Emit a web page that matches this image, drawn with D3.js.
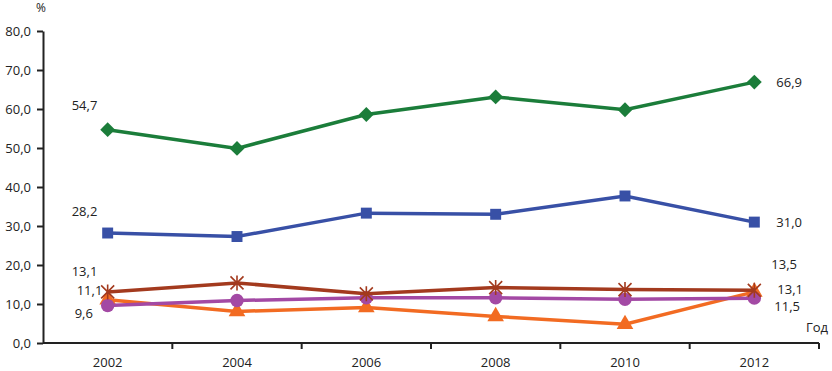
<!DOCTYPE html>
<html>
<head>
<meta charset="utf-8">
<script src="https://cdn.jsdelivr.net/npm/d3@7"></script>
<style>
  body { margin: 0; background: #fff; }
  text { font-family: "Open Sans", "DejaVu Sans", sans-serif; fill: #222; }
</style>
</head>
<body>
<div id="chart"></div>
<script>
// data
const years = ['2002', '2004', '2006', '2008', '2010', '2012'];
const greenVals = [54.7, 49.9, 58.6, 63.1, 59.8, 66.9];
const blueVals = [28.2, 27.3, 33.3, 33.0, 37.7, 31.0];
const brownVals = [13.1, 15.4, 12.6, 14.2, 13.7, 13.5];
const purpleVals = [9.6, 10.9, 11.6, 11.6, 11.2, 11.5];
const orangeVals = [11.1, 8.1, 9.1, 6.8, 4.8, 13.1];
const yTicks = [0, 10, 20, 30, 40, 50, 60, 70, 80];

const width = 832, height = 371;
const margin = {top: 31, right: 13, bottom: 28, left: 43};

const svg = d3.select('#chart').append('svg')
    .attr('width', width)
    .attr('height', height);

const x = d3.scaleBand()
    .domain(years)
    .range([margin.left, width - margin.right]);
const y = d3.scaleLinear()
    .domain([0, 80])
    .range([height - margin.bottom, margin.top]);

const fmt = v => d3.format('.1f')(v).replace('.', ',');

// y axis
const yAxis = svg.append('g')
    .attr('transform', `translate(${margin.left},0)`)
    .call(d3.axisLeft(y).tickValues(yTicks).tickFormat(fmt).tickSize(6).tickPadding(6).tickSizeOuter(0));
yAxis.select('.domain').attr('stroke', '#222').attr('stroke-width', 2);
yAxis.selectAll('.tick line').attr('stroke', '#222').attr('stroke-width', 2);
yAxis.selectAll('.tick text').style('font-size', '13px');

// x axis, ticks between categories
const xAxis = svg.append('g')
    .attr('transform', `translate(0,${y(0)})`);
xAxis.append('line')
    .attr('x1', margin.left).attr('x2', width - margin.right)
    .attr('stroke', '#222').attr('stroke-width', 2);
const bounds = years.map(d => x(d) + x.bandwidth());
xAxis.selectAll('.xtick').data(bounds).enter().append('line')
    .attr('x1', d => d).attr('x2', d => d)
    .attr('y1', 0).attr('y2', 6)
    .attr('stroke', '#222').attr('stroke-width', 2);
xAxis.selectAll('.xlab').data(years).enter().append('text')
    .attr('x', d => x(d) + x.bandwidth() / 2)
    .attr('y', 24)
    .attr('text-anchor', 'middle')
    .style('font-size', '13px')
    .text(d => d);

svg.append('text').attr('x', 36).attr('y', 12).style('font-size', '12px').text('%');
svg.append('text').attr('x', 806).attr('y', 332).style('font-size', '13px').text('Год');

const cx = d => x(d) + x.bandwidth() / 2;

const series = [
  {vals: greenVals, color: '#1b7d3a', sym: 'diamond', size: 110},
  {vals: blueVals, color: '#3850a6', sym: d3.symbolSquare, size: 120},
  {vals: orangeVals, color: '#f26b22', sym: d3.symbolTriangle, size: 120},
  {vals: purpleVals, color: '#a349a4', sym: d3.symbolCircle, size: 140},
  {vals: brownVals, color: '#a33a1e', sym: 'star', size: 0}
];

const line = d3.line()
    .x(d => cx(d.year))
    .y(d => y(d.v));

series.forEach(s => {
  const pts = years.map((yr, i) => ({year: yr, v: s.vals[i]}));
  svg.append('path')
    .datum(pts)
    .attr('d', line)
    .attr('fill', 'none')
    .attr('stroke', s.color)
    .attr('stroke-width', 3.5);
  const g = svg.append('g');
  if (s.sym === 'star') {
    const r = 6.5;
    g.selectAll('path').data(pts).enter().append('path')
      .attr('transform', d => `translate(${cx(d.year)},${y(d.v)})`)
      .attr('d', `M${-r},${-r}L${r},${r}M${-r},${r}L${r},${-r}M0,${-r - 1}L0,${r + 1}`)
      .attr('stroke', s.color)
      .attr('stroke-width', 1.6)
      .attr('fill', 'none');
  } else if (s.sym === 'diamond') {
    // square turned 45 degrees
    g.selectAll('path').data(pts).enter().append('path')
      .attr('transform', d => `translate(${cx(d.year)},${y(d.v)}) rotate(45)`)
      .attr('d', d3.symbol().type(d3.symbolSquare).size(s.size))
      .attr('fill', s.color);
  } else {
    g.selectAll('path').data(pts).enter().append('path')
      .attr('transform', d => `translate(${cx(d.year)},${y(d.v)})`)
      .attr('d', d3.symbol().type(s.sym).size(s.size))
      .attr('fill', s.color);
  }
});

// value labels at the ends
const labels = [
  {yr: '2002', v: greenVals[0], dx: -36, dy: -20},
  {yr: '2002', v: blueVals[0], dx: -36, dy: -17},
  {yr: '2002', v: brownVals[0], dx: -36, dy: -16},
  {yr: '2002', v: orangeVals[0], dx: -31, dy: -5},
  {yr: '2002', v: purpleVals[0], dx: -33, dy: 12},
  {yr: '2012', v: greenVals[5], dx: 22, dy: 5},
  {yr: '2012', v: blueVals[5], dx: 22, dy: 5},
  {yr: '2012', v: brownVals[5], dx: 17, dy: -21},
  {yr: '2012', v: orangeVals[5], dx: 23, dy: 2},
  {yr: '2012', v: purpleVals[5], dx: 20, dy: 13}
];
svg.selectAll('.vlab').data(labels).enter().append('text')
    .attr('x', d => cx(d.yr) + d.dx)
    .attr('y', d => y(d.v) + d.dy)
    .style('font-size', '13px')
    .text(d => fmt(d.v));
</script>
</body>
</html>
